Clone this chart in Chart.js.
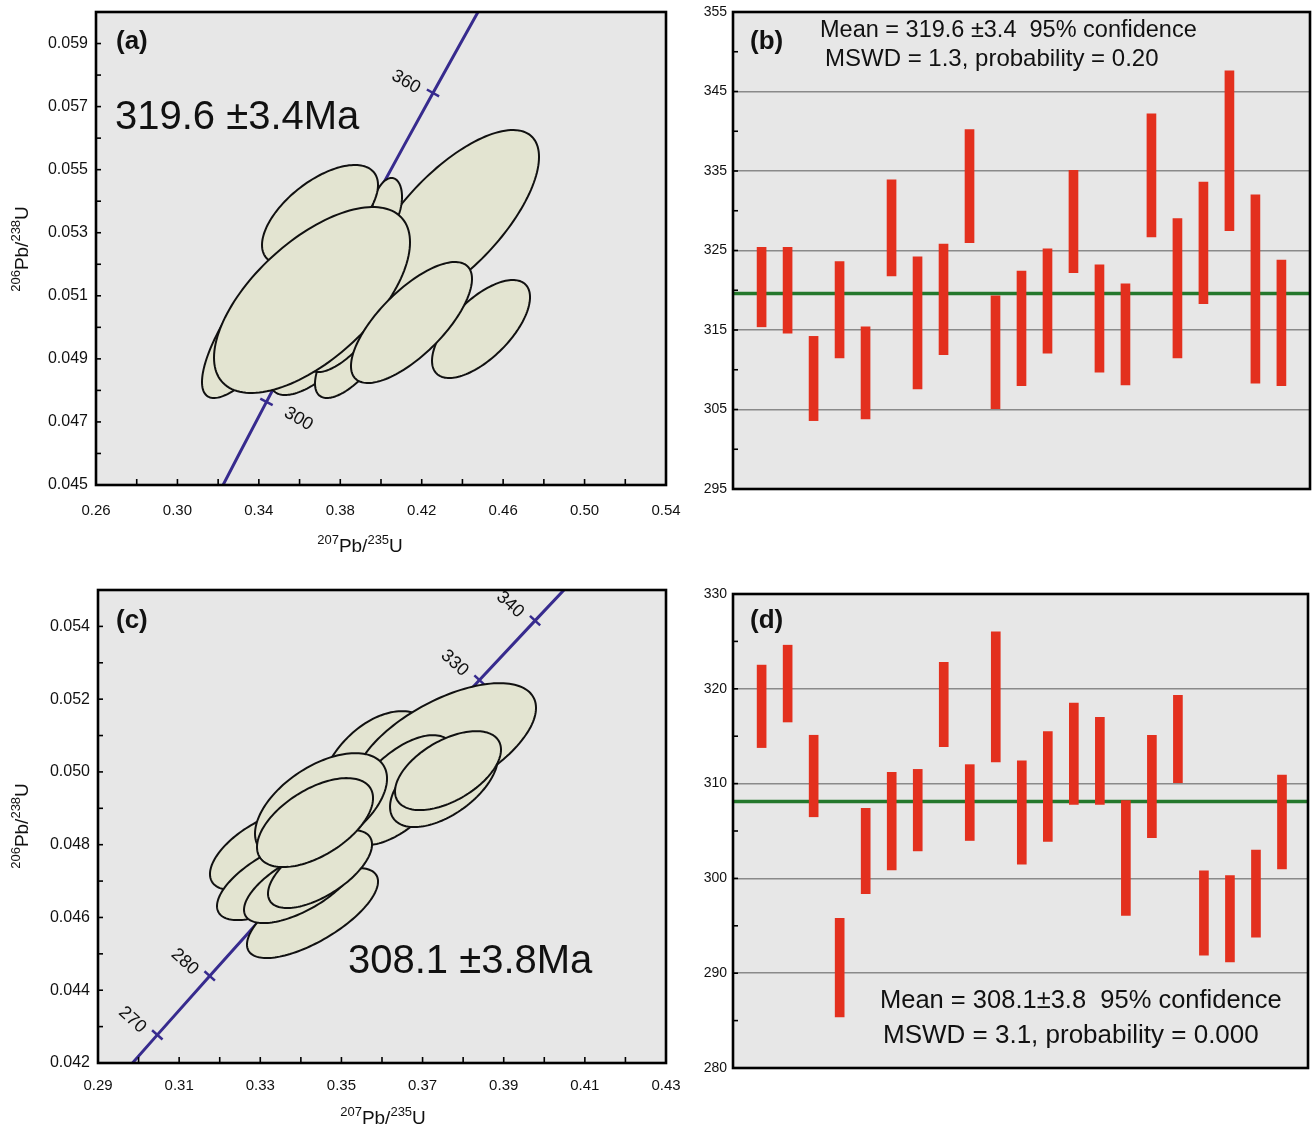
<!DOCTYPE html>
<html>
<head>
<meta charset="utf-8">
<script src="https://cdn.jsdelivr.net/npm/chart.js@4.4.1/dist/chart.umd.min.js"></script>
<style>
body { margin: 0; background: #fff; width: 1312px; height: 1127px; position: relative; overflow: hidden; }
canvas { position: absolute; }
</style>
</head>
<body>
<canvas id="plot_a" width="690" height="560" style="left:0;top:0"></canvas>
<canvas id="plot_b" width="622" height="560" style="left:690px;top:0"></canvas>
<canvas id="plot_c" width="690" height="567" style="left:0;top:560px"></canvas>
<canvas id="plot_d" width="622" height="567" style="left:690px;top:560px"></canvas>
<script>
const FONT = "'Liberation Sans', Arial, sans-serif";

// concordia curve (age in Ma, 207Pb/235U, 206Pb/238U)
const concAge = [260, 270, 280, 290, 300, 310, 320, 330, 340, 350, 360, 370, 380];
const conc207 = [0.29183, 0.30462, 0.31753, 0.33057, 0.34374, 0.35704, 0.37047, 0.38403, 0.39773, 0.41156, 0.42553, 0.43964, 0.45389];
const conc206 = [0.041157, 0.042773, 0.044392, 0.046014, 0.047637, 0.049264, 0.050893, 0.052524, 0.054158, 0.055795, 0.057434, 0.059075, 0.060720];
const tickAgesA = [300, 360];
const tickAgesC = [270, 280, 330, 340];

// error ellipses, sample (a): centre, half width, half height, correlation
const ellA_x = [0.43488, 0.40295, 0.34154, 0.37004, 0.37004, 0.38723, 0.38232, 0.36611, 0.44913, 0.41498];
const ellA_y = [0.053404, 0.05388, 0.050296, 0.053562, 0.04944, 0.049281, 0.049915, 0.050867, 0.049947, 0.050153];
const ellA_sx = [0.04274, 0.00737, 0.02947, 0.02849, 0.02456, 0.01965, 0.01867, 0.04814, 0.02407, 0.02972];
const ellA_sy = [0.002854, 0.000856, 0.002537, 0.001586, 0.001586, 0.001522, 0.001332, 0.002949, 0.001554, 0.001919];
const ellA_rho = [0.7, 0.3, 0.8, 0.6, 0.7, 0.7, 0.7, 0.62, 0.65, 0.72];

// error ellipses, sample (c)
const ellC_x = [0.35902, 0.37553, 0.36444, 0.37529, 0.37627, 0.33116, 0.33363, 0.34287, 0.33979, 0.34472, 0.34497, 0.34349];
const ellC_y = [0.049912, 0.050736, 0.0495, 0.04972, 0.050036, 0.047852, 0.047027, 0.046121, 0.04689, 0.04733, 0.04906, 0.048607];
const ellC_sx = [0.01479, 0.02243, 0.01356, 0.01331, 0.01306, 0.01356, 0.0143, 0.01615, 0.0138, 0.01282, 0.01627, 0.0143];
const ellC_sy = [0.001758, 0.001703, 0.001511, 0.001236, 0.001085, 0.001099, 0.001099, 0.001236, 0.001044, 0.001071, 0.001456, 0.001223];
const ellC_rho = [0.4, 0.6, 0.6, 0.55, 0.53, 0.6, 0.65, 0.7, 0.65, 0.63, 0.52, 0.55];

// weighted mean plots: spot number, age low / high (Ma)
const spots = [1, 2, 3, 4, 5, 6, 7, 8, 9, 10, 11, 12, 13, 14, 15, 16, 17, 18, 19, 20, 21];
const ageB_lo = [315.4, 314.6, 303.6, 311.5, 303.8, 321.8, 307.6, 311.9, 326.0, 305.1, 308.0, 312.1, 322.2, 309.7, 308.1, 326.7, 311.5, 318.3, 327.5, 308.3, 308.0];
const ageB_hi = [325.4, 325.4, 314.2, 323.6, 315.4, 333.9, 324.2, 325.8, 340.2, 319.3, 322.4, 325.2, 335.1, 323.2, 320.8, 342.2, 329.0, 333.6, 347.6, 332.0, 323.8];
const meanB = 319.6;
const ageD_lo = [313.8, 316.5, 306.5, 285.4, 298.4, 300.9, 302.9, 313.9, 304.0, 312.3, 301.5, 303.9, 307.8, 307.8, 296.1, 304.3, 310.1, 291.9, 291.2, 293.8, 301.0];
const ageD_hi = [322.5, 324.6, 315.1, 295.8, 307.4, 311.2, 311.5, 322.8, 312.0, 326.0, 312.4, 315.5, 318.5, 317.0, 308.2, 315.1, 319.3, 300.8, 300.3, 303.0, 310.9];
const meanD = 308.1;

const PURPLE = '#372b8e';

function drawIso(ctx, parts, cx, cy, rot) {
    // parts: [mass, element, mass, element] -> superscript masses
    ctx.save();
    ctx.translate(cx, cy);
    ctx.rotate(rot);
    ctx.fillStyle = '#111';
    ctx.textBaseline = 'alphabetic';
    const fonts = ['13px ' + FONT, '19px ' + FONT, '13px ' + FONT, '19px ' + FONT];
    const lift = [-8, 0, -8, 0];
    let w = 0;
    parts.forEach((p, i) => { ctx.font = fonts[i]; w += ctx.measureText(p).width; });
    let x = -w / 2;
    parts.forEach((p, i) => {
        ctx.font = fonts[i];
        ctx.fillText(p, x, 7 + lift[i]);
        x += ctx.measureText(p).width;
    });
    ctx.restore();
}

const deco = {
    id: 'deco',
    beforeDraw(chart) {
        const a = chart.chartArea, ctx = chart.ctx;
        ctx.save();
        ctx.fillStyle = '#e7e7e7';
        ctx.fillRect(a.left, a.top, a.width, a.height);
        ctx.restore();
    },
    afterDatasetsDraw(chart, args, o) {
        const ctx = chart.ctx, a = chart.chartArea;
        const xs = chart.scales.x, ys = chart.scales.y;
        ctx.save();
        ctx.beginPath();
        ctx.rect(a.left, a.top, a.width, a.height);
        ctx.clip();
        // age ticks on the concordia
        (o.concTicks || []).forEach(age => {
            const i = concAge.indexOf(age);
            const px = xs.getPixelForValue(conc207[i]), py = ys.getPixelForValue(conc206[i]);
            const dx = xs.getPixelForValue(conc207[i + 1]) - xs.getPixelForValue(conc207[i - 1]);
            const dy = ys.getPixelForValue(conc206[i + 1]) - ys.getPixelForValue(conc206[i - 1]);
            const len = Math.hypot(dx, dy);
            const nx = -dy / len, ny = dx / len;
            ctx.strokeStyle = PURPLE;
            ctx.lineWidth = 2.5;
            ctx.beginPath();
            ctx.moveTo(px - nx * 7, py - ny * 7);
            ctx.lineTo(px + nx * 7, py + ny * 7);
            ctx.stroke();
            const off = o.labelOffset[age];
            ctx.save();
            ctx.translate(px + off[0], py + off[1]);
            ctx.rotate(o.labelAngle);
            ctx.font = '18px ' + FONT;
            ctx.fillStyle = '#111';
            ctx.textAlign = 'center';
            ctx.textBaseline = 'middle';
            ctx.fillText(String(age), 0, 0);
            ctx.restore();
        });
        // error ellipses
        if (o.ell) {
            const e = o.ell;
            for (let i = 0; i < e.x.length; i++) {
                const r = e.rho[i], q = Math.sqrt(1 - r * r);
                ctx.beginPath();
                for (let k = 0; k <= 144; k++) {
                    const t = k / 144 * 2 * Math.PI;
                    const vx = e.x[i] + e.sx[i] * Math.cos(t);
                    const vy = e.y[i] + e.sy[i] * (r * Math.cos(t) + q * Math.sin(t));
                    const px = xs.getPixelForValue(vx), py = ys.getPixelForValue(vy);
                    if (k === 0) ctx.moveTo(px, py); else ctx.lineTo(px, py);
                }
                ctx.closePath();
                ctx.fillStyle = '#e3e4d1';
                ctx.fill();
                ctx.lineWidth = 2;
                ctx.strokeStyle = '#111';
                ctx.stroke();
            }
        }
        ctx.restore();
    },
    afterDraw(chart, args, o) {
        const ctx = chart.ctx, a = chart.chartArea;
        ctx.save();
        ctx.strokeStyle = '#000';
        ctx.lineWidth = 1.6;
        // inward tick marks
        chart.scales.y.ticks.forEach(t => {
            const p = chart.scales.y.getPixelForValue(t.value);
            ctx.beginPath(); ctx.moveTo(a.left, p); ctx.lineTo(a.left + 5, p); ctx.stroke();
        });
        if (o.xTicks) {
            chart.scales.x.ticks.forEach(t => {
                const p = chart.scales.x.getPixelForValue(t.value);
                ctx.beginPath(); ctx.moveTo(p, a.bottom); ctx.lineTo(p, a.bottom - 6); ctx.stroke();
            });
        }
        // plot frame
        ctx.lineWidth = 2.6;
        ctx.strokeRect(a.left, a.top, a.width, a.height);
        // text annotations
        ctx.fillStyle = '#111';
        ctx.textBaseline = 'middle';
        (o.texts || []).forEach(t => {
            ctx.font = (t.bold ? 'bold ' : '') + t.size + 'px ' + FONT;
            ctx.fillText(t.text, t.x, t.y);
        });
        ctx.restore();
        if (o.xTitle) drawIso(ctx, ['207', 'Pb/', '235', 'U'], o.xTitle[0], o.xTitle[1], 0);
        if (o.yTitle) drawIso(ctx, ['206', 'Pb/', '238', 'U'], o.yTitle[0], o.yTitle[1], -Math.PI / 2);
    }
};

function stepLabel(min, step, digits) {
    return function (v) {
        return Math.round((v - min) / step) % 2 === 0 ? v.toFixed(digits) : '';
    };
}

// (a) concordia
new Chart(document.getElementById('plot_a'), {
    type: 'scatter',
    data: {
        datasets: [{
            data: concAge.map((t, i) => ({ x: conc207[i], y: conc206[i] })),
            showLine: true,
            borderColor: PURPLE,
            borderWidth: 3,
            pointRadius: 0
        }]
    },
    options: {
        responsive: false,
        animation: false,
        layout: { padding: { top: 12, right: 24, left: 0, bottom: 0 } },
        plugins: {
            legend: { display: false },
            tooltip: { enabled: false },
            deco: {
                xTicks: true,
                concTicks: tickAgesA,
                labelAngle: 30 * Math.PI / 180,
                labelOffset: { 300: [32, 17], 360: [-27, -11] },
                ell: { x: ellA_x, y: ellA_y, sx: ellA_sx, sy: ellA_sy, rho: ellA_rho },
                texts: [
                    { text: '(a)', x: 116, y: 42, size: 26, bold: true },
                    { text: '319.6 \u00b13.4Ma', x: 115, y: 118, size: 40 }
                ],
                xTitle: [360, 545],
                yTitle: [21, 249]
            }
        },
        scales: {
            x: {
                type: 'linear', min: 0.26, max: 0.54,
                grid: { display: false, drawTicks: false },
                border: { display: false },
                ticks: { stepSize: 0.02, autoSkip: false, maxRotation: 0, padding: 17, color: '#111',
                    font: { size: 15, family: FONT }, callback: stepLabel(0.26, 0.02, 2) },
                afterFit(s) { s.height = 75; s.paddingLeft = 0; s.paddingRight = 0; }
            },
            y: {
                type: 'linear', min: 0.045, max: 0.060,
                grid: { display: false, drawTicks: false },
                border: { display: false },
                ticks: { stepSize: 0.001, autoSkip: false, padding: 8, color: '#111',
                    font: { size: 16, family: FONT }, callback: stepLabel(0.045, 0.001, 3) },
                afterFit(s) { s.width = 96; s.paddingTop = 0; s.paddingBottom = 0; }
            }
        }
    },
    plugins: [deco]
});

// (c) concordia
new Chart(document.getElementById('plot_c'), {
    type: 'scatter',
    data: {
        datasets: [{
            data: concAge.map((t, i) => ({ x: conc207[i], y: conc206[i] })),
            showLine: true,
            borderColor: PURPLE,
            borderWidth: 3,
            pointRadius: 0
        }]
    },
    options: {
        responsive: false,
        animation: false,
        layout: { padding: { top: 30, right: 24, left: 0, bottom: 0 } },
        plugins: {
            legend: { display: false },
            tooltip: { enabled: false },
            deco: {
                xTicks: true,
                concTicks: tickAgesC,
                labelAngle: 42 * Math.PI / 180,
                labelOffset: { 270: [-25, -15], 280: [-25, -14], 330: [-25, -17], 340: [-25, -16] },
                ell: { x: ellC_x, y: ellC_y, sx: ellC_sx, sy: ellC_sy, rho: ellC_rho },
                texts: [
                    { text: '(c)', x: 116, y: 61, size: 26, bold: true },
                    { text: '308.1 \u00b13.8Ma', x: 348, y: 402, size: 40 }
                ],
                xTitle: [383, 557],
                yTitle: [21, 266]
            }
        },
        scales: {
            x: {
                type: 'linear', min: 0.29, max: 0.43,
                grid: { display: false, drawTicks: false },
                border: { display: false },
                ticks: { stepSize: 0.01, autoSkip: false, maxRotation: 0, padding: 14, color: '#111',
                    font: { size: 15, family: FONT }, callback: stepLabel(0.29, 0.01, 2) },
                afterFit(s) { s.height = 64; s.paddingLeft = 0; s.paddingRight = 0; }
            },
            y: {
                type: 'linear', min: 0.042, max: 0.055,
                grid: { display: false, drawTicks: false },
                border: { display: false },
                ticks: { stepSize: 0.001, autoSkip: false, padding: 8, color: '#111',
                    font: { size: 16, family: FONT }, callback: stepLabel(0.042, 0.001, 3) },
                afterFit(s) { s.width = 98; s.paddingTop = 0; s.paddingBottom = 0; }
            }
        }
    },
    plugins: [deco]
});

// (b) weighted mean
new Chart(document.getElementById('plot_b'), {
    type: 'bar',
    data: {
        datasets: [{
            type: 'bar',
            data: spots.map((s, i) => ({ x: s, y: [ageB_lo[i], ageB_hi[i]] })),
            backgroundColor: '#e3301e',
            borderWidth: 0,
            barThickness: 9,
            order: 0
        }, {
            type: 'line',
            data: [{ x: -0.1, y: meanB }, { x: 22.1, y: meanB }],
            borderColor: '#24782c',
            borderWidth: 3.5,
            pointRadius: 0,
            order: 1
        }]
    },
    options: {
        responsive: false,
        animation: false,
        layout: { padding: { top: 12, right: 2, left: 0, bottom: 71 } },
        plugins: {
            legend: { display: false },
            tooltip: { enabled: false },
            deco: {
                xTicks: false,
                texts: [
                    { text: '(b)', x: 60, y: 42, size: 26, bold: true },
                    { text: 'Mean = 319.6 \u00b13.4  95% confidence', x: 130, y: 31, size: 23.5 },
                    { text: 'MSWD = 1.3, probability = 0.20', x: 135, y: 59, size: 24 }
                ]
            }
        },
        scales: {
            x: { type: 'linear', min: -0.1, max: 22.1, offset: false, display: false },
            y: {
                type: 'linear', min: 295, max: 355,
                grid: {
                    drawTicks: false, lineWidth: 1.5,
                    color: c => (c.tick && (c.tick.value - 295) % 10 === 0 && c.tick.value > 295 && c.tick.value < 355) ? '#8a8a8a' : 'rgba(0,0,0,0)'
                },
                border: { display: false },
                ticks: { stepSize: 5, autoSkip: false, padding: 6, color: '#111',
                    font: { size: 14, family: FONT }, callback: stepLabel(295, 5, 0) },
                afterFit(s) { s.width = 43; s.paddingTop = 0; s.paddingBottom = 0; }
            }
        }
    },
    plugins: [deco]
});

// (d) weighted mean
new Chart(document.getElementById('plot_d'), {
    type: 'bar',
    data: {
        datasets: [{
            type: 'bar',
            data: spots.map((s, i) => ({ x: s, y: [ageD_lo[i], ageD_hi[i]] })),
            backgroundColor: '#e3301e',
            borderWidth: 0,
            barThickness: 9,
            order: 0
        }, {
            type: 'line',
            data: [{ x: -0.1, y: meanD }, { x: 22.0, y: meanD }],
            borderColor: '#24782c',
            borderWidth: 3.5,
            pointRadius: 0,
            order: 1
        }]
    },
    options: {
        responsive: false,
        animation: false,
        layout: { padding: { top: 34, right: 4, left: 0, bottom: 59 } },
        plugins: {
            legend: { display: false },
            tooltip: { enabled: false },
            deco: {
                xTicks: false,
                texts: [
                    { text: '(d)', x: 60, y: 61, size: 26, bold: true },
                    { text: 'Mean = 308.1\u00b13.8  95% confidence', x: 190, y: 441, size: 25.5 },
                    { text: 'MSWD = 3.1, probability = 0.000', x: 193, y: 476, size: 26 }
                ]
            }
        },
        scales: {
            x: { type: 'linear', min: -0.1, max: 22.0, offset: false, display: false },
            y: {
                type: 'linear', min: 280, max: 330,
                grid: {
                    drawTicks: false, lineWidth: 1.5,
                    color: c => (c.tick && (c.tick.value - 280) % 10 === 0 && c.tick.value > 280 && c.tick.value < 330) ? '#8a8a8a' : 'rgba(0,0,0,0)'
                },
                border: { display: false },
                ticks: { stepSize: 5, autoSkip: false, padding: 6, color: '#111',
                    font: { size: 14, family: FONT }, callback: stepLabel(280, 5, 0) },
                afterFit(s) { s.width = 43; s.paddingTop = 0; s.paddingBottom = 0; }
            }
        }
    },
    plugins: [deco]
});
</script>
</body>
</html>
